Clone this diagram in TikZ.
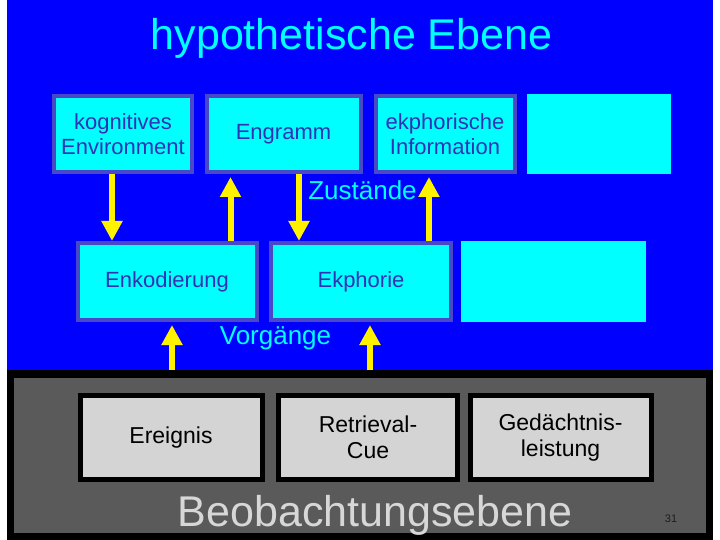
\documentclass[tikz,border=0pt]{standalone}
\usepackage{fontspec}
\setmainfont{Liberation Sans}
\usetikzlibrary{arrows.meta}
\definecolor{slidebg}{RGB}{0,0,255}
\definecolor{boxcyan}{RGB}{0,255,255}
\definecolor{boxline}{RGB}{72,72,200}
\definecolor{boxtext}{RGB}{50,50,180}
\definecolor{obsgray}{RGB}{90,90,90}
\definecolor{obsbox}{RGB}{212,212,212}
\definecolor{obstext}{RGB}{215,215,215}
\begin{document}
\begin{tikzpicture}[x=1pt,y=-1pt,
  every node/.style={font=\fontsize{22}{25}\selectfont, align=center, inner sep=0pt},
  hbox/.style={draw=boxline, line width=4pt, fill=boxcyan, text=boxtext},
  ebox/.style={fill=boxcyan},
  obox/.style={draw=black, line width=5pt, fill=obsbox, minimum height=84pt, font=\fontsize{23}{26}\selectfont},
  yarrow/.style={draw=yellow, line width=6pt, -{Triangle[width=20pt,length=20pt]}}]
\useasboundingbox (0,0) rectangle (720,540);
\fill[white] (0,0) rectangle (720,540);
\fill[slidebg] (7,0) rectangle (713,370);
\node[fill=obsgray, draw=black, line width=7.5pt, minimum width=699pt, minimum height=162.5pt] (obs) at (360,455.25) {};
\node[anchor=base, text=boxcyan, font=\fontsize{43}{50}\selectfont] (title) at (351.5,50) {hypothetische Ebene};
\node[hbox, minimum width=138pt, minimum height=76pt] (kog) at (123,134) {kognitives\\Environment};
\node[hbox, minimum width=154pt, minimum height=76pt] (engr) at (283.5,134) {Engramm};
\node[hbox, minimum width=139pt, minimum height=76pt] (info) at (445,134) {ekphorische\\Information};
\node[ebox, minimum width=144pt, minimum height=80pt] (top4) at (599,134) {};
\node[hbox, minimum width=179pt, minimum height=77pt] (enk) at (167,281.5) {Enkodierung};
\node[hbox, minimum width=180pt, minimum height=77pt] (ekph) at (361,281.5) {Ekphorie};
\node[ebox, minimum width=185pt, minimum height=81pt] (mid3) at (553.5,281.5) {};
\node[anchor=base, text=boxcyan, font=\fontsize{26}{30}\selectfont] (zust) at (362.5,200) {Zustände};
\node[anchor=base, text=boxcyan, font=\fontsize{26}{30}\selectfont] (vorg) at (275.5,344) {Vorgänge};
\node[obox, minimum width=182pt] (ereig) at (171,437.5) {Ereignis};
\node[obox, minimum width=179pt] (cue) at (368,437.5) {Retrieval-\\Cue};
\node[obox, minimum width=181pt] (leist) at (560.5,437.5) {Gedächtnis-\\leistung};
\node[anchor=base, text=obstext, font=\fontsize{43}{50}\selectfont] (beob) at (375,526) {Beobachtungsebene};
\node[text={rgb,255:red,30;green,30;blue,30}, font=\fontsize{11}{13}\selectfont] (pnum) at (671,519) {31};
\draw[yarrow] ([xshift=-11pt]kog.south) coordinate (a1) -- (a1 |- enk.north);
\draw[yarrow, shorten >=3pt] ([xshift=63.5pt]enk.north) coordinate (a2) -- (a2 |- engr.south);
\draw[yarrow] ([xshift=15.5pt]engr.south) coordinate (a3) -- (a3 |- ekph.north);
\draw[yarrow, shorten >=3pt] ([xshift=68pt]ekph.north) coordinate (a4) -- (a4 |- info.south);
\draw[yarrow, shorten >=3pt] ([xshift=-188pt]obs.north) coordinate (a5) -- (a5 |- enk.south);
\draw[yarrow, shorten >=3pt] ([xshift=10pt]obs.north) coordinate (a6) -- (a6 |- ekph.south);
\end{tikzpicture}
\end{document}
